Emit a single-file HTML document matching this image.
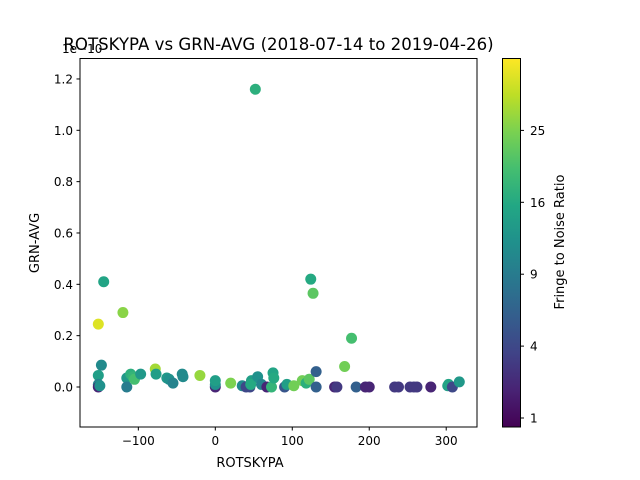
<!DOCTYPE html>
<html><head><meta charset="utf-8"><style>body{margin:0;background:#fff}svg{display:block;font-family:"DejaVu Sans","Liberation Sans",sans-serif}</style></head>
<body>
<svg id="chart" width="640" height="480" viewBox="0 0 640 480" xmlns="http://www.w3.org/2000/svg">
<rect width="640" height="480" fill="#fff"/>
<g id="points"></g>
<rect x="80" y="58.5" width="397" height="368.5" fill="none" stroke="#000" stroke-width="1"/>
<g id="axes"></g>
<text x="278.5" y="50" text-anchor="middle" font-size="16.6">ROTSKYPA vs GRN-AVG (2018-07-14 to 2019-04-26)</text>
<text x="62" y="53" font-size="12">1e−10</text>
<text x="250" y="467" text-anchor="middle" font-size="13">ROTSKYPA</text>
<text transform="translate(39,243) rotate(-90)" text-anchor="middle" font-size="13">GRN-AVG</text>
<defs><linearGradient id="vir" x1="0" y1="1" x2="0" y2="0"></linearGradient></defs>
<rect x="502.5" y="58.5" width="18" height="368.5" fill="url(#vir)" stroke="#000" stroke-width="1"/>
<g id="cbticks"></g>
<text transform="translate(564,242) rotate(-90)" text-anchor="middle" font-size="13">Fringe to Noise Ratio</text>
</svg>
<script>
const xVals=[-152,-120,-145,-148,-152,-152,-152,-150,-115,-115,-110,-107,-105,-97,-78,-77,-63,-60,-55,-43,-42,-20,0,0,0,20,35,40,45,47,46,55,60,52,67,73,75,76,90,93,102,113,118,122,124,127,131,131,155,158,168,177,183,195,200,233,238,253,258,262,280,302,303,308,317];
const yVals=[0.245,0.29,0.41,0.085,0.045,0.01,0.0,0.005,0.035,0.0,0.05,0.04,0.03,0.05,0.07,0.05,0.035,0.03,0.015,0.05,0.04,0.045,0.0,0.01,0.025,0.015,0.005,0.0,0.0,0.025,0.01,0.04,0.01,1.16,0.0,0.0,0.055,0.035,0.0,0.01,0.005,0.025,0.015,0.03,0.42,0.365,0.06,0.0,0.0,0.0,0.08,0.19,0.0,0.0,0.0,0.0,0.0,0.0,0.0,0.0,0.0,0.005,0.01,0.0,0.02];
const fnrVals=[33,26,15,11,14,10,2,12,13,9,17,18,20,13,28,14,13,12,10,11,11,27,2,12,14,25,11,4,4,14,16,12,10,17,2,18,15,16,5,14,24,24,17,22,16,22,6,6,2,3,24,20,6,2,2,3,3,3,3,3,2,14,15,4,13];
const xTicks=[-100,0,100,200,300];
const yTicks=[0.0,0.2,0.4,0.6,0.8,1.0,1.2];
const cTicks=[1,4,9,16,25];
const NS="http://www.w3.org/2000/svg";
const X0=80,X1=477,XMIN=-175.8,XMAX=340;
const Y0=387,YS=256.7;
function sx(v){return X0+(v-XMIN)/(XMAX-XMIN)*(X1-X0);}
function sy(v){return Y0-v*YS;}
const CMIN=0.875,CMAX=6;
function cnorm(v){return Math.max(0,Math.min(1,(Math.sqrt(v)-CMIN)/(CMAX-CMIN)));}
function cy(v){return 427-cnorm(v)*368.5;}
const vir=[[68,1,84],[72,35,116],[64,67,135],[52,94,141],[41,120,142],[32,144,140],[34,167,132],[68,190,112],[121,209,81],[189,222,38],[253,231,37]];
function color(t){const p=t*10,i=Math.min(9,Math.floor(p)),f=p-i;const a=vir[i],b=vir[i+1];return 'rgb('+a.map((c,k)=>Math.round(c+(b[k]-c)*f)).join(',')+')';}
const grad=document.getElementById('vir');
for(let i=0;i<=10;i++){const s=document.createElementNS(NS,'stop');s.setAttribute('offset',i/10);s.setAttribute('stop-color',color(i/10));grad.appendChild(s);}
const pg=document.getElementById('points');
xVals.forEach((x,i)=>{const c=document.createElementNS(NS,'circle');
c.setAttribute('cx',sx(x));c.setAttribute('cy',sy(yVals[i]));c.setAttribute('r',5.5);c.setAttribute('fill',color(cnorm(fnrVals[i])));


pg.appendChild(c);});
const ax=document.getElementById('axes');
function add(tag,attrs,txt){const e=document.createElementNS(NS,tag);for(const k in attrs)e.setAttribute(k,attrs[k]);if(txt!==undefined)e.textContent=txt;ax.appendChild(e);return e;}
xTicks.forEach(t=>{const x=sx(t);
const l=add('line',{x1:x,x2:x,y1:427,y2:430.5,stroke:'#000'});


const tx=add('text',{x:x,y:445,'text-anchor':'middle','font-size':12},t<0?'−'+(-t):String(t));

});
yTicks.forEach(t=>{const y=sy(t);
const l=add('line',{x1:76.5,x2:80,y1:y,y2:y,stroke:'#000'});


const tx=add('text',{x:73,y:y+4.5,'text-anchor':'end','font-size':12},t.toFixed(1));

});
const cg=document.getElementById('cbticks');
cTicks.forEach(t=>{const y=cy(t);
const l=document.createElementNS(NS,'line');l.setAttribute('x1',520.5);l.setAttribute('x2',524);l.setAttribute('y1',y);l.setAttribute('y2',y);l.setAttribute('stroke','#000');


cg.appendChild(l);
const tx=document.createElementNS(NS,'text');tx.setAttribute('x',530);tx.setAttribute('y',y+4.5);tx.setAttribute('font-size',12);tx.textContent=t;


cg.appendChild(tx);});
</script>
</body></html>
